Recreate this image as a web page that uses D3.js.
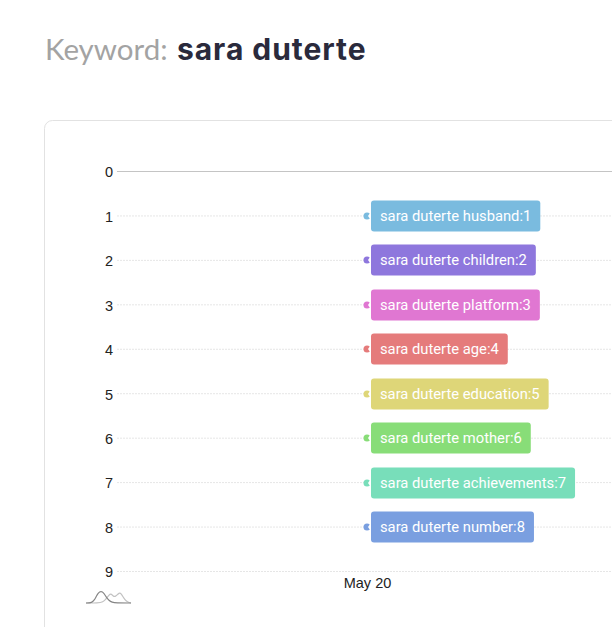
<!DOCTYPE html>
<html><head><meta charset="utf-8">
<script src="https://cdn.jsdelivr.net/npm/d3@7/dist/d3.min.js"></script>
<style>html,body{margin:0;padding:0;background:#fff;overflow:hidden}svg{display:block}</style>
</head><body><svg id="c" width="612" height="627"></svg>
<script>
const keywordLabel = "Keyword:";
const keywordName = "sara duterte";
const dateLabels = ["May 20"];
const rankTicks = [0,1,2,3,4,5,6,7,8,9];
const terms = ["sara duterte husband","sara duterte children","sara duterte platform","sara duterte age","sara duterte education","sara duterte mother","sara duterte achievements","sara duterte number"];
const ranks = [1,2,3,4,5,6,7,8];
const colors = ["#7abbdf","#8e77dd","#e077d2","#e57b7b","#ded678","#88dd78","#78deba","#7a9fe0"];
const iconA = [[0,0],[3,0],[6,.7],[8,2.5],[10,6],[12,10],[15,12],[18,10],[20,6],[23,2.5],[26,.7],[30,0],[45,0]];
const iconB = [[0,0],[12,0],[17,1],[20,4],[23,8],[25,9.5],[27,7],[29,6],[32,9],[34,10.5],[36,8],[39,3],[42,.7],[45,0]];

const svg = d3.select("#c"), font = "'Liberation Sans',Arial,sans-serif";
const x = d3.scalePoint().domain(dateLabels).range([367,367]);
const y = d3.scaleLinear().domain([0,9]).range([171,571]);

svg.append("text").attr("x",45).attr("y",60).attr("font-family","Lato,sans-serif").attr("font-size",29.5).attr("fill","#a3a3a3").text(keywordLabel);
svg.append("text").attr("x",177).attr("y",60).attr("font-family","Inter,sans-serif").attr("font-weight",700).attr("font-size",30).attr("letter-spacing",0.95).attr("fill","#2a2a3c").text(keywordName);

svg.append("rect").attr("x",44.5).attr("y",120.5).attr("width",640).attr("height",600).attr("rx",8).attr("fill","#fff").attr("stroke","#e2e2e2");

const gy = svg.append("g").attr("transform","translate(117,0)")
  .call(d3.axisLeft(y).tickValues(rankTicks).tickSize(0).tickPadding(4).tickFormat(d3.format("d")));
gy.select(".domain").remove();
gy.selectAll("text").attr("font-family",font).attr("font-size",14.5).attr("fill","#222").attr("dy","0.4em");
gy.selectAll(".tick line").attr("x2",500).attr("stroke",d=>d===0?"#c4c4c4":"#e6e6e6").attr("stroke-dasharray",d=>d===0?null:"2 1");

const gx = svg.append("g").attr("transform","translate(0,583)")
  .call(d3.axisBottom(x).tickSize(0).tickPadding(0));
gx.select(".domain").remove();
gx.selectAll("text").attr("font-family",font).attr("font-size",14.5).attr("fill","#222").attr("dy","0.72em").attr("y",-5.5);

const rows = svg.append("g").selectAll("g").data(terms).join("g")
  .attr("transform",(d,i)=>`translate(${x(dateLabels[0])},${Math.round(y(ranks[i])+0.5)})`);
rows.append("circle").attr("r",3.5).attr("fill",(d,i)=>colors[i]);
const labels = rows.append("text").attr("x",13).attr("dy","0.35em").attr("font-family","Roboto,sans-serif").attr("font-size",14.75).attr("fill","#fff")
  .text((d,i)=>`${d}:${ranks[i]}`);
labels.each(function(){ this.__w = this.getComputedTextLength(); });
rows.insert("path","text").attr("d","M4.5,-5L1,0L4.5,5Z").attr("fill","#fff");
rows.insert("rect","text").attr("x",4).attr("y",-15.5).attr("rx",3).attr("height",31)
  .attr("width",function(){ return this.parentNode.querySelector("text").__w+18; })
  .attr("fill",(d,i)=>colors[i]);

const ix = d3.scaleLinear().domain([0,45]).range([86,131]), iy = d3.scaleLinear().domain([0,11]).range([603,592]);
const line = d3.line().x(d=>ix(d[0])).y(d=>iy(d[1])).curve(d3.curveBasis);
svg.append("path").attr("d",line(iconB)).attr("fill","none").attr("stroke","#c2c2c2").attr("stroke-width",1.2);
svg.append("path").attr("d",line(iconA)).attr("fill","none").attr("stroke","#858585").attr("stroke-width",1.2);
</script></body></html>
